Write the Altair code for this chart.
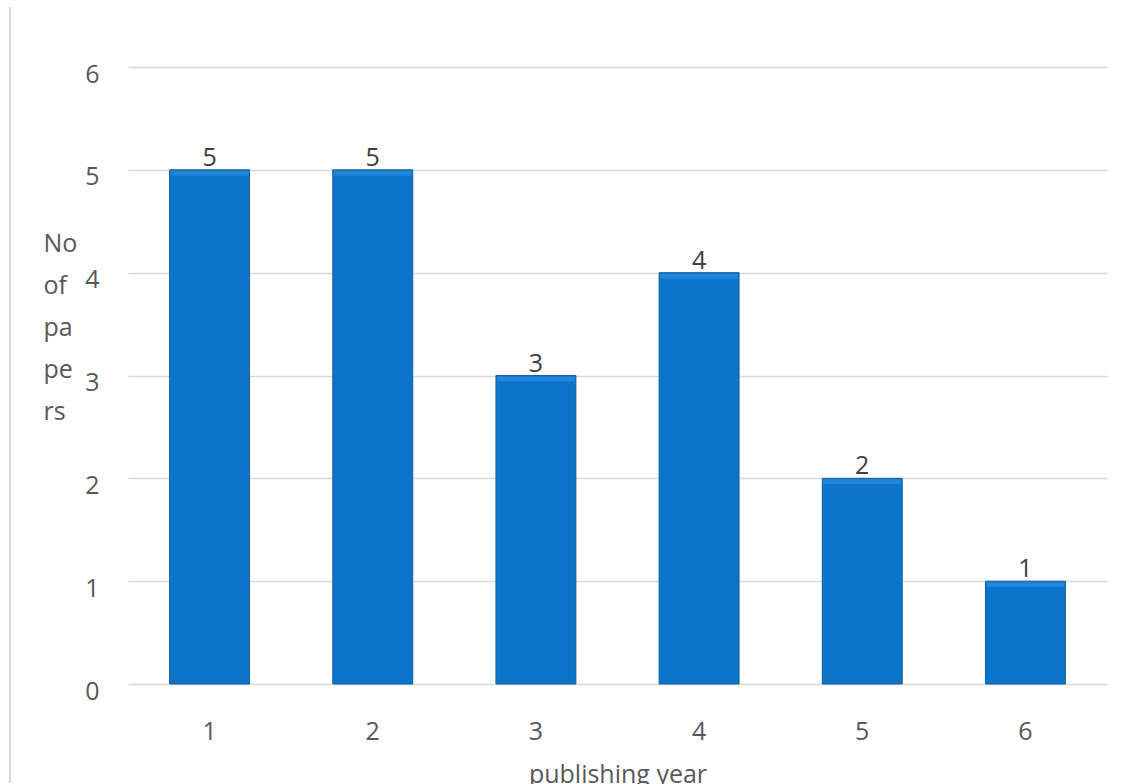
import altair as alt
import pandas as pd

years = ["1", "2", "3", "4", "5", "6"]
papers = [5, 5, 3, 4, 2, 1]
y_ticks = [0, 1, 2, 3, 4, 5, 6]
y_title_lines = ["No", "of", "pa", "pe", "rs"]
x_title = "publishing year"

df = pd.DataFrame({"year": years, "papers": papers})

FONT = "Open Sans"
TXT = "#595959"
GRID = "#d9d9d9"

x_enc = alt.X(
    "year:N",
    sort=years,
    scale=alt.Scale(paddingInner=0.51, paddingOuter=0.255),
    axis=alt.Axis(
        title=x_title,
        labelAngle=0,
        labelFont=FONT,
        labelFontSize=25,
        labelColor=TXT,
        labelBaseline="alphabetic",
        labelPadding=55,
        ticks=False,
        domain=False,
        grid=False,
        titleFont=FONT,
        titleFontSize=25,
        titleFontWeight="normal",
        titleColor=TXT,
        titleBaseline="alphabetic",
        titleY=98,
    ),
)

y_enc = alt.Y(
    "papers:Q",
    scale=alt.Scale(domain=[0, 6], nice=False),
    axis=alt.Axis(
        values=y_ticks,
        format="d",
        title=y_title_lines,
        titleAngle=0,
        titleAlign="left",
        titleBaseline="alphabetic",
        titleX=-85,
        titleY=184,
        titleLineHeight=42,
        titleFont=FONT,
        titleFontSize=25,
        titleFontWeight="normal",
        titleColor=TXT,
        labelFont=FONT,
        labelFontSize=25,
        labelColor=TXT,
        labelBaseline="alphabetic",
        labelOffset=15,
        labelPadding=29,
        ticks=False,
        domain=False,
        grid=True,
        gridColor=GRID,
        gridWidth=1.5,
    ),
)

bars = alt.Chart(df).mark_bar(
    color="#0a75c9", stroke="#1a5e99", strokeWidth=1
).encode(x=x_enc, y=y_enc)

bevel = alt.Chart(df).mark_tick(
    color="#2b8be0", thickness=5, size=78, yOffset=3.5
).encode(x=alt.X("year:N", sort=years), y="papers:Q")

labels = alt.Chart(df).mark_text(
    font=FONT, fontSize=25, color="#404040", baseline="alphabetic", dy=-4
).encode(x=alt.X("year:N", sort=years), y="papers:Q", text="papers:Q")

border = alt.Chart(df).mark_rule(color=GRID, strokeWidth=1.5).encode(
    x=alt.value(-118), y=alt.value(-60), y2=alt.value(716)
)

chart = (
    alt.layer(border, bars, bevel, labels)
    .properties(
        width=979,
        height=617,
        background="white",
        padding={"left": 128, "top": 67, "right": 15, "bottom": 100},
        autosize=alt.AutoSizeParams(type="none"),
    )
    .configure_view(stroke=None, strokeWidth=0)
)

chart.save("out.html", embed_options={"renderer": "svg", "actions": False})
